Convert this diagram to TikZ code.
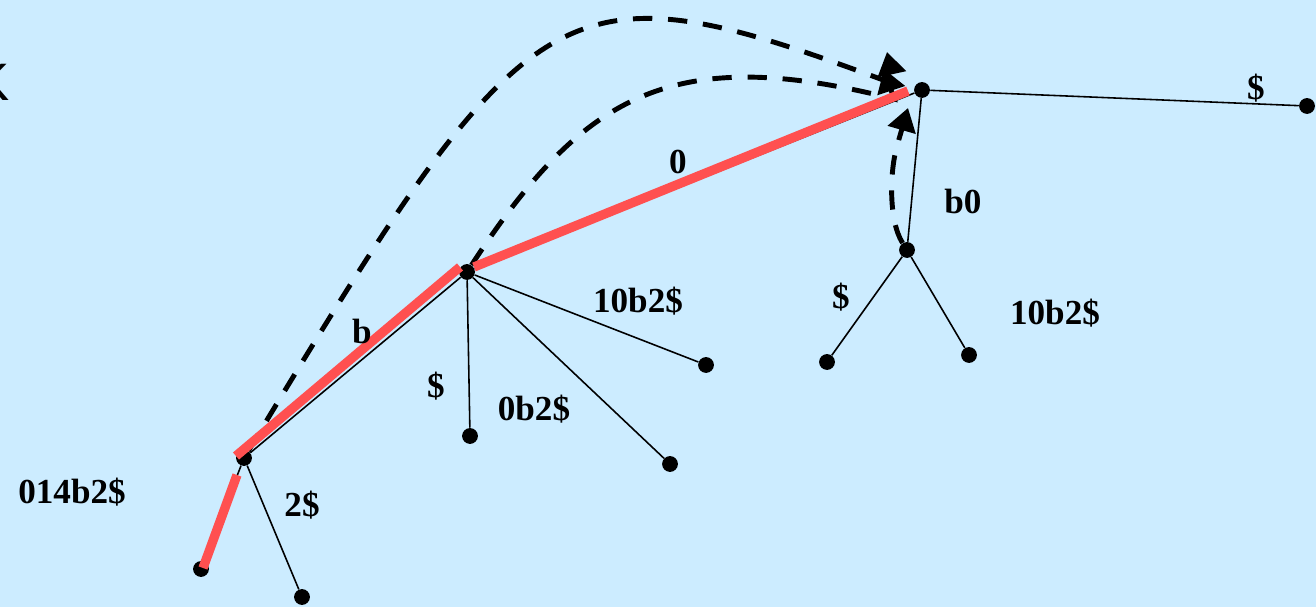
\documentclass[tikz,border=0pt]{standalone}
\usepackage{fontspec}
\setmainfont{Liberation Serif}
\setsansfont{Liberation Sans}
\usetikzlibrary{arrows.meta, positioning}

\definecolor{bgblue}{RGB}{204,236,255}
\definecolor{pathred}{RGB}{255,80,80}

\tikzset{
    dot/.style={circle, fill=black, inner sep=0pt, minimum size=9pt},
    edge/.style={black, line width=0.9pt},
    redpath/.style={pathred, line width=5.3pt},
    link/.style={black, line width=2.8pt, dash pattern=on 11pt off 9pt,
        -{Triangle[length=13pt, width=16pt]}},
    lbl/.style={font=\fontsize{20}{24}\selectfont\bfseries}
}

\begin{document}
\begin{tikzpicture}[x=0.02cm, y=-0.02cm]
    % 1. Nền và khung hình
    \fill[bgblue] (0,0) rectangle (1316,607);
    \useasboundingbox (0,0) rectangle (1316,607);
    \node[font=\fontsize{30}{34}\selectfont\sffamily] (k) at (-8,82) {K};

    % 2. Các đỉnh của cây
    \node[dot] (top) at (922,90) {};
    \node[dot] (topleaf) at (1307,106) {};
    \node[dot] (low) at (907,250) {};
    \node[dot] (lowa) at (827,362) {};
    \node[dot] (lowb) at (969,355) {};
    \node[dot] (mid) at (467,272) {};
    \node[dot] (mida) at (470,436) {};
    \node[dot] (midb) at (670,464) {};
    \node[dot] (midc) at (706,365) {};
    \node[dot] (left) at (244,458) {};
    \node[dot] (lefta) at (201,569) {};
    \node[dot] (leftb) at (302,597) {};

    % 3. Các cạnh mảnh
    \draw[edge] (top) -- (topleaf);
    \draw[edge] (top) -- (low);
    \draw[edge] (low) -- (lowa);
    \draw[edge] (low) -- (lowb);
    \draw[edge] (top) -- (mid);
    \draw[edge] (mid) -- (mida);
    \draw[edge] (mid) -- (midb);
    \draw[edge] (mid) -- (midc);
    \draw[edge] (mid) -- (left);
    \draw[edge] (left) -- (lefta);
    \draw[edge] (left) -- (leftb);

    % 4. Các mũi tên nét đứt (đầu mũi tên hướng lên)
    \coordinate (ea) at (894,84);
    \coordinate (ta) at (887,52);
    \coordinate (eb) at (894,99);
    \coordinate (tb) at (884,69);
    \coordinate (ec) at (897,146);
    \coordinate (tc) at (908,108);
    \draw[link] (left) .. controls (535,-24) and (560,-40) .. (ea) -- (ta);
    \draw[link] (mid) .. controls (582,96) and (670,42) .. (eb) -- (tb);
    \draw[link] (low) .. controls (888,220) and (890,170) .. (ec) -- (tc);

    % 5. Đường màu đỏ
    \coordinate (ra) at (203,568);
    \coordinate (rb) at (237,475);
    \coordinate (rc) at (236,456);
    \coordinate (rd) at (460,267);
    \coordinate (re) at (474,267);
    \coordinate (rf) at (908,91);
    \draw[redpath] (ra) -- (rb);
    \draw[redpath] (rc) -- (rd);
    \draw[redpath] (re) -- (rf);

    % 6. Nhãn
    \node[lbl] (l1) at (1256,88) {\$};
    \node[lbl] (l2) at (678,162) {0};
    \node[lbl] (l3) at (963,201) {b0};
    \node[lbl] (l4) at (841,297) {\$};
    \node[lbl] (l5) at (1055,313) {10b2\$};
    \node[lbl] (l6) at (638,301) {10b2\$};
    \node[lbl] (l7) at (362,331) {b};
    \node[lbl] (l8) at (436,386) {\$};
    \node[lbl] (l9) at (534,409) {0b2\$};
    \node[lbl] (l10) at (72,492) {014b2\$};
    \node[lbl] (l11) at (302,505) {2\$};
\end{tikzpicture}
\end{document}
